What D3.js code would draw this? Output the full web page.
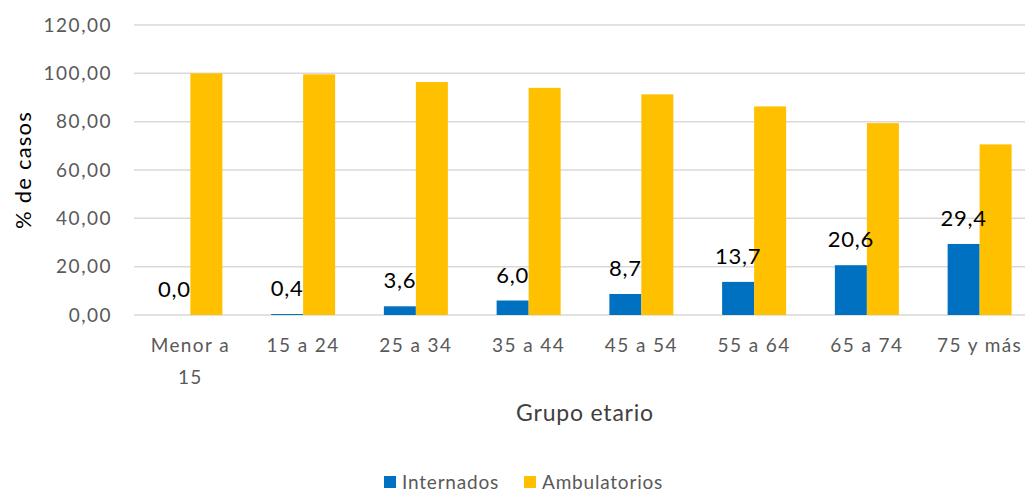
<!DOCTYPE html>
<html>
<head>
<meta charset="utf-8">
<script src="https://cdn.jsdelivr.net/npm/d3@7"></script>
<style>
  body { margin: 0; background: #fff; }
  svg { display: block; font-family: Lato, 'Open Sans', sans-serif; }
</style>
</head>
<body>
<div id="chart"></div>
<script>
// data
const grupos = [['Menor a', '15'], ['15 a 24'], ['25 a 34'], ['35 a 44'], ['45 a 54'], ['55 a 64'], ['65 a 74'], ['75 y más']];
const internados = [0.0, 0.4, 3.6, 6.0, 8.7, 13.7, 20.6, 29.4];
const ambulatorios = [100.0, 99.6, 96.4, 94.0, 91.3, 86.3, 79.4, 70.6];
const yTicks = [0, 20, 40, 60, 80, 100, 120];
const series = ['Internados', 'Ambulatorios'];
const colores = ['#0070C0', '#FFC000'];

const width = 1025, height = 494;
const margin = {top: 25, right: -11, bottom: 179, left: 134};

const svg = d3.select('#chart').append('svg')
  .attr('width', width)
  .attr('height', height);

const keys = grupos.map(g => g.join(' '));

const x = d3.scaleBand()
  .domain(keys)
  .range([margin.left, width - margin.right]);

const y = d3.scaleLinear()
  .domain([0, 120])
  .range([height - margin.bottom, margin.top]);

const barW = 32;
const fmt = v => d3.format('.2f')(v).replace('.', ',');

// grid
svg.append('g')
  .selectAll('line')
  .data(yTicks)
  .enter().append('line')
  .attr('x1', margin.left)
  .attr('x2', width)
  .attr('y1', d => y(d))
  .attr('y2', d => y(d))
  .attr('stroke', '#d9d9d9')
  .attr('stroke-width', 1.5);

// y tick labels
svg.append('g')
  .selectAll('text')
  .data(yTicks)
  .enter().append('text')
  .attr('x', 112)
  .attr('y', d => y(d))
  .attr('dy', '0.35em')
  .attr('text-anchor', 'end')
  .attr('fill', '#595959')
  .style('font-size', '19px')
  .style('letter-spacing', '1.5px')
  .text(d => fmt(d));

// bars
const rows = keys.map((k, i) => ({k, vals: [internados[i], ambulatorios[i]]}));

const grp = svg.append('g')
  .selectAll('g')
  .data(rows)
  .enter().append('g')
  .attr('transform', d => 'translate(' + (x(d.k) + x.bandwidth() / 2) + ',0)');

grp.selectAll('rect')
  .data(d => d.vals)
  .enter().append('rect')
  .attr('x', (v, j) => (j - 1) * barW)
  .attr('width', barW)
  .attr('y', v => y(v))
  .attr('height', v => y(0) - y(v))
  .attr('fill', (v, j) => colores[j]);

// data labels for Internados
grp.append('text')
  .attr('x', -barW / 2)
  .attr('y', d => y(d.vals[0]) - 18)
  .attr('text-anchor', 'middle')
  .attr('fill', '#000')
  .style('font-size', '22px')
  .style('letter-spacing', '0.8px')
  .text(d => d.vals[0].toFixed(1).replace('.', ','));

// x tick labels
const xl = svg.append('g')
  .selectAll('text')
  .data(grupos)
  .enter().append('text')
  .attr('x', (d, i) => x(keys[i]) + x.bandwidth() / 2)
  .attr('y', 352)
  .attr('text-anchor', 'middle')
  .attr('fill', '#595959')
  .style('font-size', '19px')
  .style('letter-spacing', '1.4px');

xl.selectAll('tspan')
  .data(d => d)
  .enter().append('tspan')
  .attr('x', function() { return d3.select(this.parentNode).attr('x'); })
  .attr('dy', (d, i) => i === 0 ? 0 : 32)
  .text(d => d);

// axis titles
svg.append('text')
  .attr('transform', 'translate(31,170) rotate(-90)')
  .attr('text-anchor', 'middle')
  .attr('fill', '#000')
  .style('font-size', '22px')
  .style('letter-spacing', '1.2px')
  .text('% de casos');

svg.append('text')
  .attr('x', 585)
  .attr('y', 421)
  .attr('text-anchor', 'middle')
  .attr('fill', '#404040')
  .style('font-size', '23px')
  .style('letter-spacing', '0.8px')
  .text('Grupo etario');

// legend
const legX = [384, 524];
const leg = svg.append('g')
  .selectAll('g')
  .data(series)
  .enter().append('g')
  .attr('transform', (d, i) => 'translate(' + legX[i] + ',476)');

leg.append('rect')
  .attr('width', 12)
  .attr('height', 12)
  .attr('fill', (d, i) => colores[i]);

leg.append('text')
  .attr('x', 18)
  .attr('y', 6)
  .attr('dy', '0.35em')
  .attr('fill', '#595959')
  .style('font-size', '19px')
  .style('letter-spacing', '0.8px')
  .text(d => d);
</script>
</body>
</html>
